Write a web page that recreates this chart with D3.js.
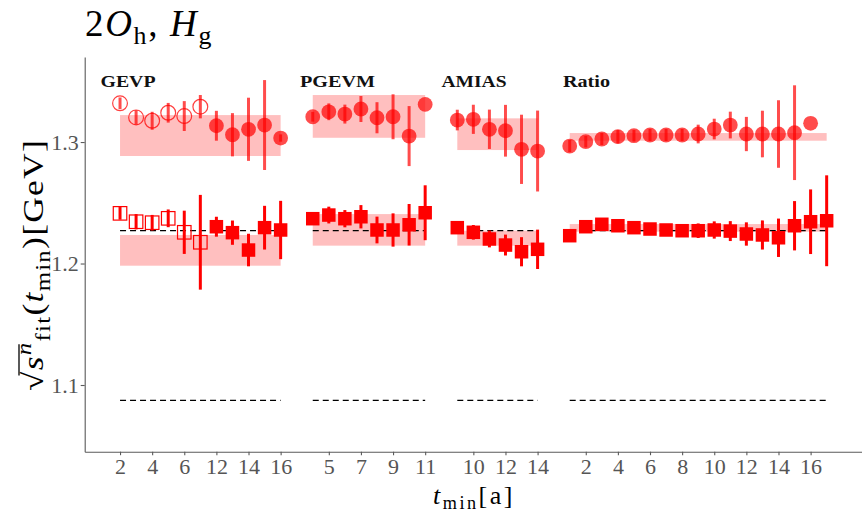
<!DOCTYPE html>
<html>
<head>
<meta charset="utf-8">
<script src="https://cdn.jsdelivr.net/npm/d3@7"></script>
<style>
  html, body { margin: 0; padding: 0; background: #fff; }
  svg { display: block; }
</style>
</head>
<body>
<svg id="chart" width="862" height="516"></svg>
<script>
// ---- data -------------------------------------------------------------
const methods = ["GEVP", "PGEVM", "AMIAS", "Ratio"];

const gevpT = [2, 3, 4, 5, 6, 7, 12, 13, 14, 15, 16];
const gevpOpen = [true, true, true, true, true, true, false, false, false, false, false];
const gevpUpper = [1.3319, 1.3203, 1.3175, 1.3241, 1.3214, 1.3291, 1.3134, 1.3060, 1.3105, 1.3140, 1.3033];
const gevpUpperErr = [0.0048, 0.0059, 0.0074, 0.0081, 0.0123, 0.0096, 0.0123, 0.0178, 0.0260, 0.0370, 0.003];
const gevpLower = [1.2413, 1.2344, 1.2336, 1.2372, 1.2257, 1.2175, 1.2303, 1.2254, 1.2111, 1.2295, 1.2276];
const gevpLowerErr = [0.0052, 0.0063, 0.0064, 0.0073, 0.0178, 0.0390, 0.0082, 0.0100, 0.0134, 0.0180, 0.0240];
const gevpUpperBand = [1.2885, 1.3222];
const gevpLowerBand = [1.1982, 1.2235];

const pgevmT = [4, 5, 6, 7, 8, 9, 10, 11];
const pgevmUpper = [1.3208, 1.3249, 1.3230, 1.3272, 1.3200, 1.3208, 1.3049, 1.3310];
const pgevmUpperErr = [0.004, 0.0069, 0.0078, 0.0107, 0.0128, 0.0185, 0.0247, 0.0];
const pgevmLower = [1.2369, 1.2399, 1.2369, 1.2385, 1.2276, 1.2276, 1.2319, 1.2418];
const pgevmLowerErr = [0.004, 0.0069, 0.0071, 0.0096, 0.0110, 0.0137, 0.0171, 0.0226];
const pgevmUpperBand = [1.3035, 1.3387];
const pgevmLowerBand = [1.2147, 1.2407];

const amiasT = [9, 10, 11, 12, 13, 14];
const amiasUpper = [1.3181, 1.3187, 1.3105, 1.3093, 1.2940, 1.2926];
const amiasUpperErr = [0.0085, 0.0120, 0.0162, 0.0213, 0.0285, 0.0333];
const amiasLower = [1.2295, 1.2257, 1.2202, 1.2152, 1.2097, 1.2117];
const amiasLowerErr = [0.003, 0.006, 0.0069, 0.0086, 0.0120, 0.0162];
const amiasUpperBand = [1.2934, 1.3195];
const amiasLowerBand = [1.2147, 1.2270];

const ratioT = [1, 2, 3, 4, 5, 6, 7, 8, 9, 10, 11, 12, 13, 14, 15, 16, 17];
const ratioUpper = [1.2967, 1.3003, 1.3025, 1.3044, 1.3052, 1.3058, 1.3058, 1.3058, 1.3066, 1.3107, 1.3140, 1.3066, 1.3066, 1.3066, 1.3077, 1.3154, null];
const ratioUpperErr = [0.0050, 0.0047, 0.0050, 0.0055, 0.0048, 0.0050, 0.0050, 0.0050, 0.0077, 0.0085, 0.0110, 0.0141, 0.0192, 0.0278, 0.0390, 0.0, null];
const ratioLower = [1.2229, 1.2303, 1.2323, 1.2311, 1.2295, 1.2284, 1.2276, 1.2270, 1.2270, 1.2276, 1.2267, 1.2243, 1.2235, 1.2212, 1.2311, 1.2344, 1.2352];
const ratioLowerErr = [0.003, 0.003, 0.003, 0.003, 0.003, 0.003, 0.003, 0.004, 0.0060, 0.0071, 0.0082, 0.0096, 0.0120, 0.0158, 0.0203, 0.0266, 0.0374];
const ratioUpperBand = [1.3011, 1.3074];
const ratioLowerBand = [1.2262, 1.2325];

const gevpTicks = [2, 4, 6, 12, 14, 16];
const pgevmTicks = [5, 7, 9, 11];
const amiasTicks = [10, 12, 14];
const ratioTicks = [2, 4, 6, 8, 10, 12, 14, 16];

const referenceLines = [1.227, 1.0874];
const yTicks = [1.1, 1.2, 1.3];

// ---- assemble groups -----------------------------------------------------
const groups = [
  { name: methods[0], t: gevpT, open: gevpOpen, up: gevpUpper, upErr: gevpUpperErr, lo: gevpLower, loErr: gevpLowerErr, upBand: gevpUpperBand, loBand: gevpLowerBand, ticks: gevpTicks },
  { name: methods[1], t: pgevmT, up: pgevmUpper, upErr: pgevmUpperErr, lo: pgevmLower, loErr: pgevmLowerErr, upBand: pgevmUpperBand, loBand: pgevmLowerBand, ticks: pgevmTicks },
  { name: methods[2], t: amiasT, up: amiasUpper, upErr: amiasUpperErr, lo: amiasLower, loErr: amiasLowerErr, upBand: amiasUpperBand, loBand: amiasLowerBand, ticks: amiasTicks },
  { name: methods[3], t: ratioT, up: ratioUpper, upErr: ratioUpperErr, lo: ratioLower, loErr: ratioLowerErr, upBand: ratioUpperBand, loBand: ratioLowerBand, ticks: ratioTicks }
];

// consecutive slots on the x axis, one empty slot between methods
let slot = 0;
groups.forEach(g => {
  g.start = slot;
  g.pos = g.t.map((_, i) => slot + i);
  g.end = slot + g.t.length - 1;
  slot += g.t.length + 1;
});
const lastSlot = slot - 2;

// ---- scales ---------------------------------------------------------------
const plot = { left: 84.7, right: 862, top: 57, bottom: 451.7 };
const pad = lastSlot * 0.05;
const x = d3.scaleLinear().domain([-pad, lastSlot + pad]).range([plot.left, plot.right]);
const y = d3.scaleLinear().domain([1.0451, 1.37]).range([plot.bottom, plot.top]);

const svg = d3.select("#chart");
const serif = "'Liberation Serif', 'DejaVu Serif', serif";
const RED = "#ff0000";

// ---- bands -----------------------------------------------------------------
const bandLayer = svg.append("g");
groups.forEach(g => {
  [g.upBand, g.loBand].forEach(b => {
    bandLayer.append("rect")
      .attr("x", x(g.start)).attr("width", x(g.end) - x(g.start))
      .attr("y", y(b[1])).attr("height", y(b[0]) - y(b[1]))
      .attr("fill", RED).attr("fill-opacity", 0.25);
  });
});

// ---- dashed reference lines ------------------------------------------------
const lineLayer = svg.append("g");
groups.forEach(g => {
  referenceLines.forEach(v => {
    lineLayer.append("line")
      .attr("x1", x(g.start)).attr("x2", x(g.end))
      .attr("y1", y(v)).attr("y2", y(v))
      .attr("stroke", "#000").attr("stroke-width", 1.3)
      .attr("stroke-dasharray", "6,4");
  });
});

// ---- points with error bars ---------------------------------------------------
const pts = svg.append("g");
groups.forEach(g => {
  g.pos.forEach((p, i) => {
    const open = g.open ? g.open[i] : false;
    const cx = x(p);
    // upper level: circles
    const u = g.up[i];
    if (u !== null) {
      const e = g.upErr[i];
      if (e > 0) {
        pts.append("line")
          .attr("x1", cx).attr("x2", cx)
          .attr("y1", y(u - e)).attr("y2", y(u + e))
          .attr("stroke", RED).attr("stroke-opacity", 0.7).attr("stroke-width", 3);
      }
      const c = pts.append("circle").attr("cx", cx).attr("cy", y(u)).attr("r", 7.4);
      if (open) c.attr("fill", "none").attr("stroke", RED).attr("stroke-opacity", 0.75).attr("stroke-width", 1.2);
      else c.attr("fill", RED).attr("fill-opacity", 0.7);
    }
    // lower level: squares
    const l = g.lo[i];
    const el = g.loErr[i];
    if (el > 0) {
      pts.append("line")
        .attr("x1", cx).attr("x2", cx)
        .attr("y1", y(l - el)).attr("y2", y(l + el))
        .attr("stroke", RED).attr("stroke-width", 3);
    }
    const s = 13.5;
    const r = pts.append("rect").attr("x", cx - s / 2).attr("y", y(l) - s / 2).attr("width", s).attr("height", s);
    if (open) r.attr("fill", "none").attr("stroke", RED).attr("stroke-width", 1.2);
    else r.attr("fill", RED);
  });
});

// ---- method labels -----------------------------------------------------------
const labelX = [100.5, 300, 441.5, 563];
const labelW = [55, 75, 65, 47];
groups.forEach((g, i) => {
  svg.append("text")
    .attr("x", labelX[i]).attr("y", 87)
    .attr("font-family", serif).attr("font-weight", "bold").attr("font-size", 16)
    .attr("textLength", labelW[i]).attr("lengthAdjust", "spacingAndGlyphs")
    .attr("fill", "#111")
    .text(g.name);
});

// ---- axes ------------------------------------------------------------------------
const AX = "#5a5a5a";
const TX = "#555";

const yAxis = svg.append("g").attr("transform", `translate(${plot.left},0)`)
  .call(d3.axisLeft(y).tickValues(yTicks).tickFormat(d3.format(".1f")).tickSize(4).tickSizeOuter(0));
yAxis.select(".domain").attr("stroke", AX).attr("stroke-width", 1.1);
yAxis.selectAll(".tick line").attr("stroke", AX).attr("stroke-width", 1.1);
yAxis.selectAll(".tick text").attr("font-family", serif).attr("font-size", 22).attr("fill", TX).attr("x", -6).attr("dy", "0.33em");

const tickPos = [], tickLab = {};
groups.forEach(g => {
  g.ticks.forEach(tv => {
    const p = g.pos[g.t.indexOf(tv)];
    tickPos.push(p);
    tickLab[p] = tv;
  });
});
const xAxis = svg.append("g").attr("transform", `translate(0,${plot.bottom})`)
  .call(d3.axisBottom(x).tickValues(tickPos).tickFormat(p => tickLab[p]).tickSize(3.5).tickSizeOuter(0));
xAxis.select(".domain").attr("stroke", AX).attr("stroke-width", 1.1);
xAxis.selectAll(".tick line").attr("stroke", AX).attr("stroke-width", 1.1);
xAxis.selectAll(".tick text").attr("font-family", serif).attr("font-size", 22).attr("fill", TX).attr("y", 7).attr("dy", "0.71em");

// ---- math-style text helper ------------------------------------------------------
function mathText(text, parts, size, subShift) {
  let cur = 0;
  parts.forEach(p => {
    const target = p.sub ? subShift * size : p.sup ? -0.42 * size : 0;
    text.append("tspan")
      .attr("dy", target - cur)
      .attr("font-size", (p.sub || p.sup) ? size * 0.7 : size)
      .attr("font-style", p.i ? "italic" : "normal")
      .text(p.t);
    cur = target;
  });
}
// spread glyphs so that a text element spans a given length
function fitWidth(text, target) {
  const n = text.text().length;
  const len = text.node().getComputedTextLength();
  text.attr("letter-spacing", Math.max(0, (target - len) / n));
}

// title
const title = svg.append("text").attr("x", 85).attr("y", 36)
  .attr("font-family", serif).attr("fill", "#000");
mathText(title, [{ t: "2" }, { t: "O", i: true }, { t: "h", sub: true }, { t: ", " }, { t: "H", i: true }, { t: "g", sub: true }], 37, 0.22);
fitWidth(title, 128);

// x axis title
const xt = svg.append("text").attr("x", 474).attr("y", 504).attr("text-anchor", "middle")
  .attr("font-family", serif).attr("fill", "#000");
mathText(xt, [{ t: "t", i: true }, { t: "min", sub: true }, { t: "[a]" }], 26, 0.2);
fitWidth(xt, 82);

// y axis title: widened along its run to the span of the axis label
const yg = svg.append("g").attr("transform", "translate(43,265) rotate(-90)");
const yInner = yg.append("g");
const yt = yInner.append("text").attr("x", 0).attr("y", 0).attr("text-anchor", "middle")
  .attr("font-family", serif).attr("fill", "#000");
mathText(yt, [{ t: "√" }, { t: "s", i: true }, { t: "n", sup: true, i: true }, { t: "fit", sub: true }, { t: "(" }, { t: "t", i: true }, { t: "min", sub: true }, { t: ")" }, { t: "[GeV]" }], 29, 0.24);
const natural = yt.node().getComputedTextLength();
const sx = Math.min(1.22, 252 / natural);
yInner.attr("transform", `scale(${sx},1)`);
fitWidth(yt, 252 / sx);
// vinculum over s^n
const a = yt.node().getExtentOfChar(0), b = yt.node().getExtentOfChar(2);
yInner.append("line")
  .attr("x1", a.x + a.width * 0.75).attr("x2", b.x + b.width * 0.8)
  .attr("y1", a.y + 2).attr("y2", a.y + 2)
  .attr("stroke", "#000").attr("stroke-width", 1.3);
</script>
</body>
</html>
